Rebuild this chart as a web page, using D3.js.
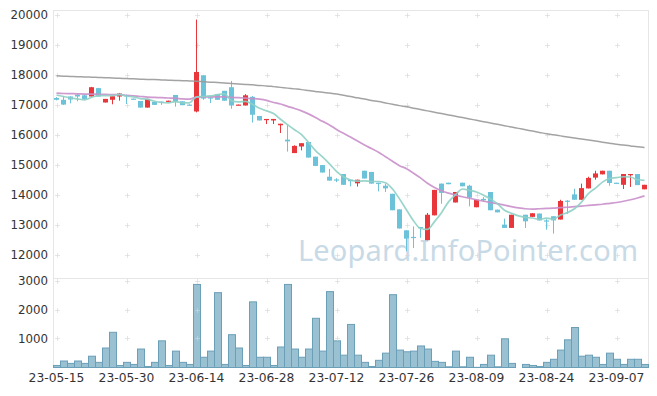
<!DOCTYPE html>
<meta http-equiv="content-type" content="text/html; charset=utf-8" />
<html>
<head>
  <script src="https://d3js.org/d3.v7.min.js"></script>
  <style>
    body { margin: 0; background: #fff; }
    text { font-family: 'DejaVu Sans', sans-serif; }
  </style>
</head>
<body>
<div id="chart"></div>
<script>
  let dates = ['23-05-15','23-05-16','23-05-17','23-05-18','23-05-19','23-05-22','23-05-23','23-05-24','23-05-25','23-05-26',
    '23-05-30','23-05-31','23-06-01','23-06-02','23-06-05','23-06-07','23-06-08','23-06-09','23-06-12','23-06-13',
    '23-06-14','23-06-15','23-06-16','23-06-19','23-06-20','23-06-21','23-06-22','23-06-23','23-06-26','23-06-27',
    '23-06-28','23-06-29','23-06-30','23-07-03','23-07-04','23-07-05','23-07-06','23-07-07','23-07-10','23-07-11',
    '23-07-12','23-07-13','23-07-14','23-07-17','23-07-18','23-07-19','23-07-20','23-07-21','23-07-24','23-07-25',
    '23-07-26','23-07-27','23-07-28','23-07-31','23-08-01','23-08-02','23-08-03','23-08-04','23-08-07','23-08-08',
    '23-08-09','23-08-10','23-08-11','23-08-14','23-08-16','23-08-17','23-08-18','23-08-21','23-08-22','23-08-23',
    '23-08-24','23-08-25','23-08-28','23-08-29','23-08-30','23-08-31','23-09-01','23-09-04','23-09-05','23-09-06',
    '23-09-07','23-09-08','23-09-11','23-09-12','23-09-13'];

  let open = [17230,17170,17280,17340,17320,17280,17560,17080,17170,17280,
    17330,17210,17130,16910,17100,17110,17110,17330,17120,17010,
    16780,17990,17250,17360,17470,17590,16990,16980,17270,16630,
    16490,16480,16320,15840,15390,15610,15760,15270,14990,14600,
    14510,14690,14500,14380,14800,14760,14400,14300,14030,13510,
    12810,12590,12920,12480,13310,14370,14400,13740,14400,14300,
    13580,13860,14090,13500,13000,12890,null,13330,13260,13370,
    13140,13280,13170,13800,14010,13830,14210,14570,14680,14800,
    14400,14330,14650,14690,14180];
  let high = [17260,17300,17290,17360,17340,17600,17570,17200,17290,17400,
    17340,17210,17130,17200,17100,17110,17140,17330,17120,17020,
    19850,17990,17250,17360,17470,17800,17010,17360,17300,16630,
    16530,16530,16370,16330,15650,15720,15760,15270,14990,14860,
    14550,14690,14500,14500,14800,14760,14400,14370,14030,13510,
    12810,12940,12920,13390,14160,14370,14400,14090,14400,14330,
    13830,13920,14090,13500,13200,13330,null,13330,13380,13370,
    13180,13280,13830,13820,14200,14370,14600,14800,14800,14800,
    14400,14690,14690,14690,14330];
  let low = [17150,17000,17050,17120,17170,17270,17280,17080,17020,17140,
    17030,17190,16910,16910,17000,17000,17110,16940,16990,16980,
    16750,17170,17060,17170,17140,16870,16990,16980,16410,16480,
    16360,16360,16060,15440,15390,15480,15240,14960,14740,14470,
    14420,14330,14280,14270,14540,14370,14110,14090,13480,12870,
    12110,12220,12560,12480,13310,13700,14350,13740,14280,13610,
    13580,13760,13480,13410,12890,12890,null,12890,13260,13140,
    12830,12700,13170,13360,13830,13830,14210,14500,14680,14300,
    14390,14190,14260,14320,14180];
  let close = [17170,17010,17180,17280,17200,17590,17280,17200,17290,17380,
    17290,17190,16910,17200,17000,17100,17140,17110,16990,17000,
    18100,17210,17210,17170,17140,16980,17010,17320,16670,16480,
    16530,16530,16370,15780,15630,15720,15240,14960,14740,14470,
    14480,14330,14450,14500,14540,14370,14360,14210,13480,12870,
    12530,12570,12900,13330,14160,14060,14350,14090,14280,13900,
    13830,13810,13480,13410,12890,13330,null,13110,13380,13140,
    13130,13140,13790,13780,13830,14220,14560,14710,14800,14390,
    14390,14690,14690,14320,14330];

  let volume = [71,226,143,226,143,393,179,679,1226,71,
    179,107,643,36,179,929,71,571,179,107,
    2893,357,571,2607,107,1143,679,71,2286,357,
    357,71,714,2893,643,357,643,1714,571,2643,
    929,429,1500,429,179,36,250,500,2536,607,
    548,571,750,643,214,179,24,571,24,357,
    5,107,429,24,1000,143,0,107,71,36,
    179,286,607,964,1393,393,429,357,107,500,
    286,107,286,286,107];

  let ma5 = [17330,17280,17230,17200,17170,17250,17310,17310,17310,17350,
    17290,17270,17210,17190,17120,17080,17070,17110,17070,17070,
    17270,17280,17300,17340,17370,17140,17100,17120,17020,16890,
    16800,16710,16520,16340,16170,16010,15750,15470,15260,15030,
    14780,14600,14490,14450,14460,14440,14440,14400,14190,13860,
    13490,13130,12870,12840,13100,13400,13760,14000,14190,14140,
    14090,13980,13860,13690,13480,13380,13290,13240,13220,13170,
    13220,13180,13320,13400,13530,13750,14040,14220,14420,14540,
    14570,14600,14590,14500,14480];
  let ma20 = [17390,17380,17375,17370,17360,17360,17355,17350,17345,17340,
    17320,17300,17280,17260,17250,17240,17230,17220,17200,17190,
    17260,17270,17270,17270,17265,17250,17240,17225,17210,17190,
    17150,17080,17030,16950,16880,16800,16700,16580,16450,16330,
    16180,16050,15930,15790,15660,15540,15420,15270,15120,14970,
    14870,14720,14560,14380,14240,14130,14050,13990,13930,13880,
    13830,13780,13740,13700,13650,13600,13560,13530,13520,13530,
    13540,13550,13570,13580,13600,13620,13640,13660,13680,13710,
    13740,13780,13830,13890,13960];
  let ma120 = [17970,17960,17950,17940,17935,17925,17915,17905,17900,17890,
    17880,17870,17860,17850,17845,17835,17825,17815,17810,17800,
    17790,17775,17760,17745,17730,17715,17700,17685,17670,17650,
    17635,17610,17585,17560,17535,17510,17480,17450,17420,17395,
    17365,17320,17280,17235,17195,17150,17110,17065,17020,16975,
    16935,16890,16845,16800,16755,16710,16665,16620,16575,16530,
    16485,16440,16395,16350,16305,16260,16215,16170,16125,16080,
    16035,16000,15965,15930,15895,15860,15825,15790,15755,15720,
    15685,15660,15630,15600,15575];

  let priceTicks = [12000,13000,14000,15000,16000,17000,18000,19000,20000];
  let volTicks = [1000,2000,3000];
  let dateTicks = ['23-05-15','23-05-30','23-06-14','23-06-28','23-07-12','23-07-26','23-08-09','23-08-24','23-09-07'];

  let width = 657, height = 396;
  let plotLeft = 53, plotRight = 648, plotTop = 10, priceBottom = 277, volTop = 278, volBottom = 367;

  let svg = d3.select('#chart')
    .append('svg')
    .attr('width', width)
    .attr('height', height);

  let x = d3.scaleBand().domain(dates).range([plotLeft, plotRight]);
  let bw = x.bandwidth();
  let cx = d => x(d) + bw / 2;
  let y = d3.scaleLinear().domain([11250, 20170]).range([priceBottom, plotTop]);
  let yv = d3.scaleLinear().domain([0, 3100]).range([volBottom, volTop]);

  let rows = dates.map((d, i) => ({date: d, o: open[i], h: high[i], l: low[i], c: close[i], v: volume[i]}));

  // watermark sits under everything
  svg.append('text')
    .attr('x', 298)
    .attr('y', 261)
    .attr('textLength', 340)
    .style('font-family', "'Noto Sans', sans-serif")
    .style('font-size', '29px')
    .style('fill', '#c8dae6')
    .text('Leopard.InfoPointer.com');

  // frame
  let frame = svg.append('g').attr('stroke', '#e6e6e6').attr('stroke-width', 1);
  frame.append('line').attr('x1', plotLeft).attr('x2', plotRight).attr('y1', plotTop + 0.5).attr('y2', plotTop + 0.5);
  frame.append('line').attr('x1', plotLeft).attr('x2', plotRight).attr('y1', volTop + 0.5).attr('y2', volTop + 0.5);
  frame.append('line').attr('x1', plotLeft + 0.5).attr('x2', plotLeft + 0.5).attr('y1', plotTop).attr('y2', volBottom + 1);
  frame.append('line').attr('x1', plotRight + 0.5).attr('x2', plotRight + 0.5).attr('y1', plotTop).attr('y2', volBottom + 1);

  // volume bars
  svg.append('g')
    .selectAll('rect')
    .data(rows.filter(d => d.v > 0))
    .join('rect')
    .attr('x', d => x(d.date) + 0.5)
    .attr('y', d => yv(d.v) + 0.5)
    .attr('width', bw)
    .attr('height', d => Math.max(0, yv(0) - yv(d.v)))
    .attr('fill', '#9ac1d2')
    .attr('stroke', '#6b9fb8')
    .attr('stroke-width', 1);

  // little + marks at tick crossings
  let crosses = [];
  dateTicks.forEach(d => {
    priceTicks.forEach(p => crosses.push([cx(d), y(p)]));
    volTicks.forEach(v => crosses.push([cx(d), yv(v)]));
  });
  svg.append('g')
    .selectAll('path')
    .data(crosses)
    .join('path')
    .attr('d', d => `M${Math.round(d[0]) - 2},${Math.round(d[1]) + 0.5}h5M${Math.round(d[0]) + 0.5},${Math.round(d[1]) - 2}v5`)
    .attr('stroke', '#d6d6d6')
    .attr('stroke-opacity', 0.6)
    .attr('fill', 'none');

  // candles
  let up = '#e8363b', down = '#6cc3d9';
  let candles = svg.append('g')
    .selectAll('g')
    .data(rows.filter(d => d.o != null))
    .join('g');
  candles.append('line')
    .attr('x1', d => Math.floor(cx(d.date)) + 0.5)
    .attr('x2', d => Math.floor(cx(d.date)) + 0.5)
    .attr('y1', d => y(d.h))
    .attr('y2', d => y(d.l))
    .attr('stroke', d => d.c >= d.o ? up : down);
  candles.append('rect')
    .attr('x', d => x(d.date) + 1)
    .attr('y', d => y(Math.max(d.o, d.c)))
    .attr('width', 5)
    .attr('height', d => Math.max(1.2, Math.abs(y(d.o) - y(d.c))))
    .attr('fill', d => d.c >= d.o ? up : down);

  // moving averages
  function maLine(values, color, w) {
    let line = d3.line()
      .x((d, i) => cx(dates[i]))
      .y(d => y(d))
      .curve(d3.curveMonotoneX);
    svg.append('path')
      .datum(values)
      .attr('d', line)
      .attr('fill', 'none')
      .attr('stroke', color)
      .attr('stroke-width', w)
      .attr('stroke-opacity', 0.9);
  }
  maLine(ma120, '#999999', 1.5);
  maLine(ma20, '#c98fca', 1.7);
  maLine(ma5, '#8fd0c5', 1.7);

  // y labels
  svg.append('g')
    .selectAll('text')
    .data(priceTicks)
    .join('text')
    .attr('x', 48)
    .attr('y', d => y(d))
    .attr('dy', '0.36em')
    .attr('text-anchor', 'end')
    .style('font-size', '11.8px')
    .style('fill', '#333')
    .text(d => d);

  svg.append('g')
    .selectAll('text')
    .data(volTicks)
    .join('text')
    .attr('x', 48)
    .attr('y', d => yv(d))
    .attr('dy', '0.36em')
    .attr('text-anchor', 'end')
    .style('font-size', '11.8px')
    .style('fill', '#333')
    .text(d => d);

  // date labels
  svg.append('g')
    .selectAll('text')
    .data(dateTicks)
    .join('text')
    .attr('x', d => cx(d))
    .attr('y', 382)
    .attr('text-anchor', 'middle')
    .style('font-size', '12.3px')
    .style('fill', '#333')
    .text(d => d);
</script>
</body>
</html>
